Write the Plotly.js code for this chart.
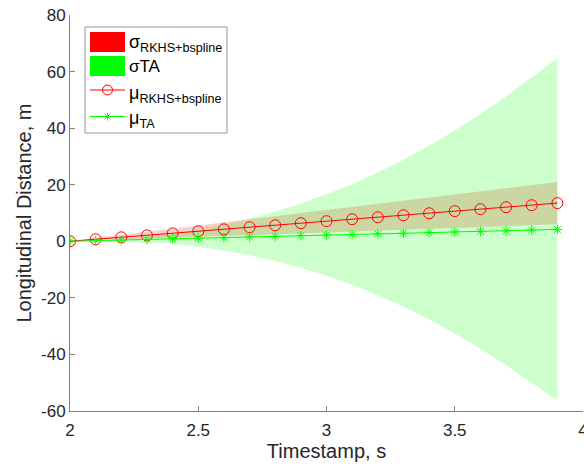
<!DOCTYPE html>
<html>
<head>
<meta charset="utf-8">
<script src="https://cdn.plot.ly/plotly-3.0.1.min.js"></script>
<style>html,body{margin:0;padding:0;background:#fff;}#chart{width:584px;height:468px;}</style>
</head>
<body>
<div id="chart"></div>
<script>
// ---- data ----
const timestamps = [2.0, 2.1, 2.2, 2.3, 2.4, 2.5, 2.6, 2.7, 2.8, 2.9, 3.0, 3.1, 3.2, 3.3, 3.4, 3.5, 3.6, 3.7, 3.8, 3.9];
const muRKHS = [0, 0.7, 1.4, 2.1, 2.8, 3.55, 4.25, 4.95, 5.65, 6.4, 7.1, 7.8, 8.5, 9.2, 9.9, 10.65, 11.35, 12.05, 12.75, 13.5];
const rkhsUpper = [0, 1.1, 2.2, 3.3, 4.4, 5.55, 6.65, 7.7, 8.8, 9.95, 11.05, 12.15, 13.25, 14.35, 15.45, 16.55, 17.65, 18.75, 19.85, 21.0];
const rkhsLower = [0, 0.3, 0.6, 0.9, 1.2, 1.55, 1.85, 2.2, 2.5, 2.85, 3.15, 3.45, 3.75, 4.05, 4.35, 4.75, 5.05, 5.35, 5.65, 6.0];
const muTA = [0, 0.2, 0.45, 0.65, 0.9, 1.1, 1.3, 1.55, 1.75, 2.0, 2.2, 2.4, 2.65, 2.85, 3.05, 3.3, 3.5, 3.7, 3.95, 4.2];
const taUpper = [0, 0.3, 0.85, 1.6, 2.7, 4.1, 5.85, 8.0, 10.45, 13.35, 16.6, 20.2, 24.35, 28.85, 33.75, 39.2, 45.0, 51.2, 57.95, 64.7];
const taLower = [0, 0.1, 0.05, -0.3, -0.9, -1.9, -3.25, -4.9, -6.95, -9.35, -12.2, -15.4, -19.05, -23.15, -27.65, -32.6, -38.0, -43.8, -50.05, -56.3];
const xTicks = [2, 2.5, 3, 3.5, 4];
const xTickText = ['2', '2.5', '3', '3.5', '4'];
const yTicks = [-60, -40, -20, 0, 20, 40, 60, 80];
const yTickText = ['-60', '-40', '-20', '0', '20', '40', '60', '80'];
const legendLabels = ['\u03c3<sub>RKHS+bspline</sub>', '\u03c3TA', '\u03bc<sub>RKHS+bspline</sub>', '\u03bc<sub>TA</sub>'];

// ---- build band polygons ----
function band(upper, lower) {
  return {
    x: timestamps.concat(timestamps.slice().reverse()),
    y: upper.concat(lower.slice().reverse())
  };
}
const rb = band(rkhsUpper, rkhsLower);
const gb = band(taUpper, taLower);

const FONT = 'Liberation Sans, Arial, Helvetica, sans-serif';
const traces = [
  {x: rb.x, y: rb.y, type: 'scatter', mode: 'lines', fill: 'toself',
   fillcolor: 'rgba(255,0,0,0.2)', line: {width: 0}, hoverinfo: 'skip', showlegend: false},
  {x: gb.x, y: gb.y, type: 'scatter', mode: 'lines', fill: 'toself',
   fillcolor: 'rgba(0,255,0,0.2)', line: {width: 0}, hoverinfo: 'skip', showlegend: false},
  {x: timestamps, y: muRKHS, type: 'scatter', mode: 'lines+markers',
   line: {color: '#ff0000', width: 1},
   marker: {symbol: 'circle-open', size: 11, color: '#ff0000', line: {width: 1, color: '#ff0000'}},
   showlegend: false},
  {x: timestamps, y: muTA, type: 'scatter', mode: 'lines+markers',
   line: {color: '#00ff00', width: 1},
   marker: {symbol: 'asterisk-open', size: 8, color: '#00ff00', line: {width: 1, color: '#00ff00'}},
   showlegend: false}
];

// plot area in pixels: x 70..583, y 15..411
const L = 70, R = 583, T = 15, B = 411;
const px = v => (v - L) / (R - L);
const py = v => (B - v) / (B - T);

const shapes = [
  {type: 'rect', xref: 'paper', yref: 'paper', x0: px(85), x1: px(227), y0: py(133), y1: py(27),
   line: {color: '#9a9a9a', width: 1}, fillcolor: '#ffffff'},
  {type: 'rect', xref: 'paper', yref: 'paper', x0: px(90), x1: px(125), y0: py(52), y1: py(32),
   line: {width: 0}, fillcolor: '#ff0000'},
  {type: 'rect', xref: 'paper', yref: 'paper', x0: px(90), x1: px(125), y0: py(76), y1: py(56),
   line: {width: 0}, fillcolor: '#00ff00'},
  {type: 'line', xref: 'paper', yref: 'paper', x0: px(90), x1: px(125), y0: py(90), y1: py(90),
   line: {color: '#ff0000', width: 1}},
  {type: 'circle', xref: 'paper', yref: 'paper', xsizemode: 'pixel', ysizemode: 'pixel',
   xanchor: px(107.5), yanchor: py(90), x0: -5, x1: 5, y0: -5, y1: 5,
   line: {color: '#ff0000', width: 1}, fillcolor: 'rgba(0,0,0,0)'},
  {type: 'line', xref: 'paper', yref: 'paper', x0: px(90), x1: px(125), y0: py(116.5), y1: py(116.5),
   line: {color: '#00ff00', width: 1}},
  {type: 'path', xref: 'paper', yref: 'paper', xsizemode: 'pixel', ysizemode: 'pixel',
   xanchor: px(107.5), yanchor: py(116.5),
   path: 'M-4,0L4,0M0,-4L0,4M-3,-3L3,3M-3,3L3,-3',
   line: {color: '#00ff00', width: 1}}
];

const annY = [43, 66, 95, 119];
const annSize = [18, 17, 18, 18];
const annotations = legendLabels.map((t, i) => ({
  text: t, xref: 'paper', yref: 'paper', x: px(127), y: py(annY[i]),
  xanchor: 'left', yanchor: 'middle', showarrow: false,
  font: {family: FONT, size: annSize[i], color: '#000000'}
}));

const layout = {
  width: 584, height: 468,
  margin: {l: L, r: 584 - R, t: T, b: 468 - B, pad: 0},
  paper_bgcolor: '#ffffff', plot_bgcolor: '#ffffff',
  font: {family: FONT, color: '#262626', size: 17},
  showlegend: false,
  xaxis: {
    range: [2, 4], tickvals: xTicks, ticktext: xTickText,
    showline: true, linecolor: '#808080', linewidth: 1, mirror: false,
    ticks: 'inside', ticklen: 5, tickcolor: '#808080', tickwidth: 1,
    showgrid: false, zeroline: false, ticklabeloverflow: 'allow', ticklabelstandoff: 4,
    tickfont: {family: FONT, size: 17, color: '#262626'},
    title: {text: 'Timestamp, s', font: {family: FONT, size: 20, color: '#262626'}, standoff: 0}
  },
  yaxis: {
    range: [-60, 80], tickvals: yTicks, ticktext: yTickText,
    showline: true, linecolor: '#808080', linewidth: 1, mirror: false,
    ticks: 'inside', ticklen: 5, tickcolor: '#808080', tickwidth: 1,
    showgrid: false, zeroline: false, ticklabeloverflow: 'allow',
    tickfont: {family: FONT, size: 17, color: '#262626'},
    title: {text: 'Longitudinal Distance, m', font: {family: FONT, size: 20, color: '#262626'}, standoff: 4}
  },
  shapes: shapes,
  annotations: annotations
};

Plotly.newPlot('chart', traces, layout, {displayModeBar: false, staticPlot: true});
</script>
</body>
</html>
